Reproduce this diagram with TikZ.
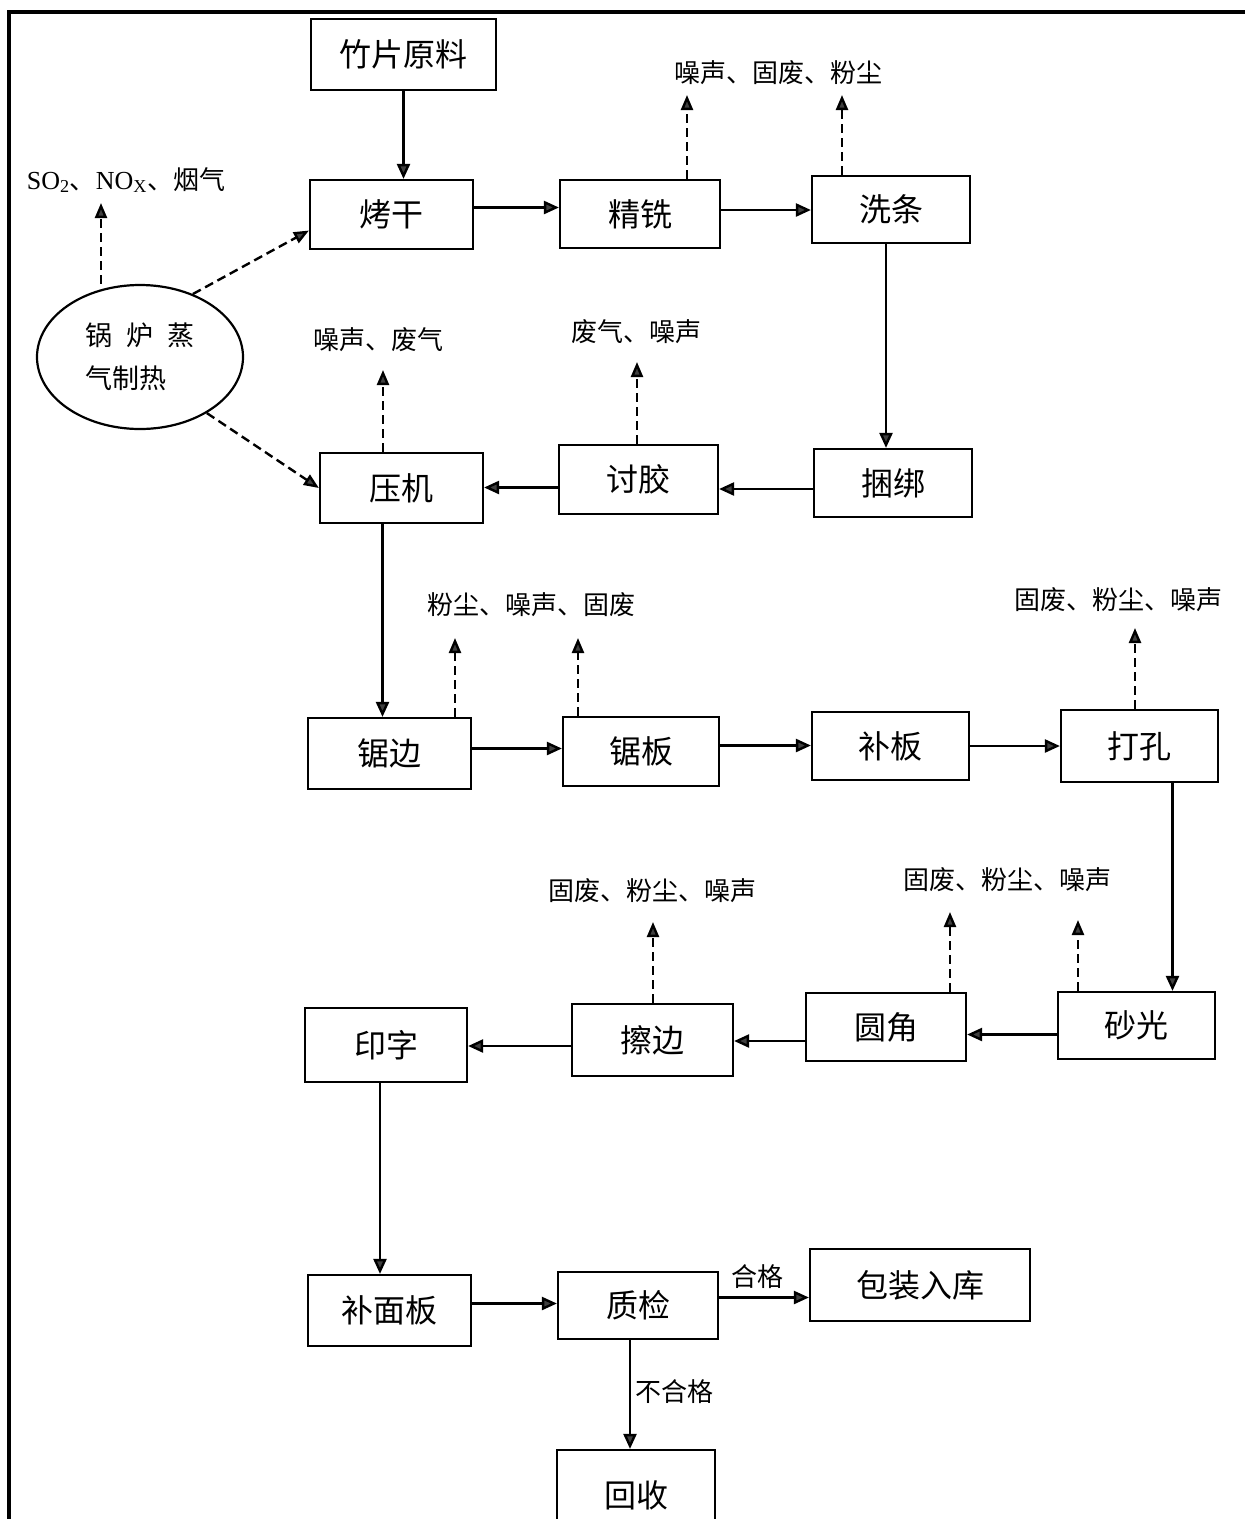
\documentclass[tikz,border=0pt]{standalone}
\usepackage{fontspec}
\setmainfont{Noto Sans CJK SC}
\newfontfamily\serifl{Liberation Serif}
\usetikzlibrary{arrows.meta,shapes.geometric}
\begin{document}
\begin{tikzpicture}[x=1pt,y=-1pt,
  box/.style={draw, line width=2.2pt, inner sep=0pt, font=\fontsize{32}{32}\selectfont},
  lab/.style={inner sep=0pt, font=\fontsize{26}{26}\selectfont},
  flow/.style={line width=2.4pt, -{Triangle[length=15pt,width=13pt,fill=black!75]}},
  emit/.style={line width=2.4pt, dash pattern=on 9pt off 5pt, -{Triangle[length=15pt,width=12pt,fill=black!75]}},
]
\useasboundingbox (0,0) rectangle (1245,1519);
\clip (0,0) rectangle (1245,1519);
\fill[white] (0,0) rectangle (1245,1519);
\draw[line width=4pt] (7,12) -- (1245,12);
\draw[line width=4pt] (9,10) -- (9,1519);

% process boxes
\node[box, minimum width=185, minimum height=71] (zp) at (403.5,54.5) {竹片原料};
\node[box, minimum width=163, minimum height=69] (hg) at (391.5,214.5) {烤干};
\node[box, minimum width=160, minimum height=68] (jx) at (640,214) {精铣};
\node[box, minimum width=158, minimum height=67] (xt) at (891,209.5) {洗条};
\node[box, minimum width=158, minimum height=68] (kb) at (893,483) {捆绑};
\node[box, minimum width=159, minimum height=69] (tj) at (638.5,479.5) {讨胶};
\node[box, minimum width=163, minimum height=70] (yj) at (401.5,488) {压机};
\node[box, minimum width=163, minimum height=71] (jb) at (389.5,753.5) {锯边};
\node[box, minimum width=156, minimum height=69] (jbn) at (641,751.5) {锯板};
\node[box, minimum width=157, minimum height=68] (bb) at (890.5,746) {补板};
\node[box, minimum width=157, minimum height=72] (dk) at (1139.5,746) {打孔};
\node[box, minimum width=157, minimum height=67] (sg) at (1136.5,1025.5) {砂光};
\node[box, minimum width=160, minimum height=68] (yjiao) at (886,1027) {圆角};
\node[box, minimum width=161, minimum height=72] (cb) at (652.5,1040) {擦边};
\node[box, minimum width=162, minimum height=74] (yz) at (386,1045) {印字};
\node[box, minimum width=163, minimum height=71] (bmb) at (389.5,1310.5) {补面板};
\node[box, minimum width=160, minimum height=67] (zj) at (638,1305.5) {质检};
\node[box, minimum width=220, minimum height=72] (bz) at (920,1285) {包装入库};
\node[box, minimum width=158, minimum height=90] (hs) at (636,1495) {回收};

% boiler
\node[draw, ellipse, line width=2.2pt, minimum width=206, minimum height=144, inner sep=0pt,
      align=left, font=\fontsize{27}{43}\selectfont] (boil) at (140,357)
      {锅\hspace{14pt}炉\hspace{14pt}蒸\\气制热};

% emission labels
\node[lab] (eso) at (126,180) {{\serifl SO\textsubscript{2}}、{\serifl NO\textsubscript{X}}、烟气};
\node[lab] (e1) at (778,73) {噪声、固废、粉尘};
\node[lab] (e2) at (378,340) {噪声、废气};
\node[lab] (e3) at (636,332) {废气、噪声};
\node[lab] (e4) at (531,605) {粉尘、噪声、固废};
\node[lab] (e5) at (1118,600) {固废、粉尘、噪声};
\node[lab] (e6) at (652,891) {固废、粉尘、噪声};
\node[lab] (e7) at (1007,880) {固废、粉尘、噪声};
\node[lab] (ok) at (757,1277) {合格};
\node[lab] (ng) at (674,1392) {不合格};

% tip coordinates of emission arrows
\coordinate (tso) at (101,203);
\coordinate (t1) at (687,95);
\coordinate (t2) at (842,95);
\coordinate (t3) at (383,370);
\coordinate (t4) at (637,362);
\coordinate (t5) at (455,638);
\coordinate (t6) at (578,638);
\coordinate (t7) at (1135,628);
\coordinate (t8) at (653,922);
\coordinate (t9) at (950,912);
\coordinate (t10) at (1078,920);

% main flow
\draw[flow] (zp.south) -- (zp.south |- hg.north);
\draw[flow] ([yshift=7pt]hg.east) -- ([yshift=7pt]hg.east -| jx.west);
\draw[flow] ([yshift=4pt]jx.east) -- ([yshift=4pt]jx.east -| xt.west);
\draw[flow] ([xshift=-5pt]xt.south) -- ([xshift=-5pt]xt.south |- kb.north);
\draw[flow] ([yshift=-6pt]kb.west) -- ([yshift=-6pt]kb.west -| tj.east);
\draw[flow] ([yshift=-8pt]tj.west) -- ([yshift=-8pt]tj.west -| yj.east);
\draw[flow] ([xshift=-19pt]yj.south) -- ([xshift=-19pt]yj.south |- jb.north);
\draw[flow] ([yshift=5pt]jb.east) -- ([yshift=5pt]jb.east -| jbn.west);
\draw[flow] ([yshift=6pt]jbn.east) -- ([yshift=6pt]jbn.east -| bb.west);
\draw[flow] (bb.east) -- (bb.east -| dk.west);
\draw[flow] ([xshift=33pt]dk.south) -- ([xshift=33pt]dk.south |- sg.north);
\draw[flow] ([yshift=-9pt]sg.west) -- ([yshift=-9pt]sg.west -| yjiao.east);
\draw[flow] ([yshift=-14pt]yjiao.west) -- ([yshift=-14pt]yjiao.west -| cb.east);
\draw[flow] ([yshift=-6pt]cb.west) -- ([yshift=-6pt]cb.west -| yz.east);
\draw[flow] ([xshift=-6pt]yz.south) -- ([xshift=-6pt]yz.south |- bmb.north);
\draw[flow] ([yshift=7pt]bmb.east) -- ([yshift=7pt]bmb.east -| zj.west);
\draw[flow] ([yshift=8pt]zj.east) -- ([yshift=8pt]zj.east -| bz.west);
\draw[flow] ([xshift=-8pt]zj.south) -- ([xshift=-8pt]zj.south |- hs.north);

% boiler heat
\draw[emit] (boil.50) -- (hg.191);
\draw[emit] (boil.-40) -- (yj.west);
\draw[emit] (boil.north -| tso) -- (tso);

% emissions
\draw[emit] (jx.north -| t1) -- (t1);
\draw[emit] (xt.north -| t2) -- (t2);
\draw[emit] (yj.north -| t3) -- (t3);
\draw[emit] (tj.north -| t4) -- (t4);
\draw[emit] (jb.north -| t5) -- (t5);
\draw[emit] (jbn.north -| t6) -- (t6);
\draw[emit] (dk.north -| t7) -- (t7);
\draw[emit] (cb.north -| t8) -- (t8);
\draw[emit] (yjiao.north -| t9) -- (t9);
\draw[emit] (sg.north -| t10) -- (t10);
\end{tikzpicture}
\end{document}
